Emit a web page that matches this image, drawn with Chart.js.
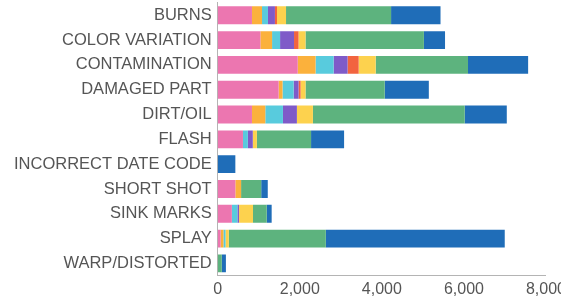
<!DOCTYPE html>
<html>
<head>
<meta charset="utf-8">
<script src="https://cdn.jsdelivr.net/npm/chart.js@4"></script>
<style>
    html, body { margin: 0; padding: 0; background: #fff; overflow: hidden; }
    /* canvas is a bit larger than the window: the 8,000 label gets clipped like in the source */
    #wrap { position: relative; width: 570px; height: 316px; margin-top: -13px; }
</style>
</head>
<body>
<div id="wrap"><canvas id="chart"></canvas></div>
<script>
// defect categories (y axis)
const categories = [
    'BURNS', 'COLOR VARIATION', 'CONTAMINATION', 'DAMAGED PART', 'DIRT/OIL', 'FLASH',
    'INCORRECT DATE CODE', 'SHORT SHOT', 'SINK MARKS', 'SPLAY', 'WARP/DISTORTED'
];

// stacked series, one value per category
const seriesPink   = [835, 1040, 1950, 1485, 835, 615, 0, 430, 345, 70, 0];
const seriesOrange = [245, 285, 435, 95, 325, 0, 0, 140, 0, 70, 0];
const seriesCyan   = [145, 195, 440, 270, 430, 120, 0, 0, 135, 50, 0];
const seriesPurple = [170, 340, 340, 120, 340, 120, 0, 0, 40, 0, 0];
const seriesRed    = [50, 110, 270, 50, 0, 0, 0, 0, 0, 0, 0];
const seriesYellow = [220, 170, 415, 120, 390, 100, 0, 0, 340, 80, 0];
const seriesGreen  = [2560, 2885, 2250, 1930, 3700, 1320, 0, 490, 335, 2365, 100];
const seriesBlue   = [1205, 515, 1465, 1075, 1025, 805, 430, 160, 120, 4360, 100];

const xTicks = [0, 2000, 4000, 6000, 8000];

const series = [
    { name: 'A', data: seriesPink,   color: '#ec76b0' },
    { name: 'B', data: seriesOrange, color: '#fbb13c' },
    { name: 'C', data: seriesCyan,   color: '#58cbdd' },
    { name: 'D', data: seriesPurple, color: '#7f5bc8' },
    { name: 'E', data: seriesRed,    color: '#f2643f' },
    { name: 'F', data: seriesYellow, color: '#fdd24e' },
    { name: 'G', data: seriesGreen,  color: '#5db37e' },
    { name: 'H', data: seriesBlue,   color: '#1f6db8' },
];

const textColor = '#555';
const axisColor = '#b4b4b4';
const family = '"Liberation Sans", Arial, sans-serif';

new Chart(document.getElementById('chart'), {
    type: 'bar',
    data: {
        labels: categories,
        datasets: series.map(s => ({
            label: s.name,
            data: s.data,
            backgroundColor: s.color,
            borderWidth: 0,
        })),
    },
    options: {
        indexAxis: 'y',
        responsive: true,
        maintainAspectRatio: false,
        animation: false,
        layout: {
            padding: { left: 8, top: 0, bottom: 0, right: 0 },
        },
        plugins: {
            legend: { display: false },
            tooltip: { enabled: false },
        },
        scales: {
            x: {
                stacked: true,
                min: 0,
                max: 8000,
                afterBuildTicks: axis => {
                    axis.ticks = xTicks.map(v => ({ value: v }));
                },
                grid: { display: false, drawTicks: false },
                border: { display: true, color: axisColor, width: 1 },
                ticks: {
                    color: textColor,
                    font: { family: family, size: 16 },
                    padding: 4,
                    maxRotation: 0,
                    callback: v => v.toLocaleString('en-US'),
                },
            },
            y: {
                stacked: true,
                grid: { display: false, drawTicks: false },
                border: { display: true, color: axisColor, width: 1 },
                ticks: {
                    color: textColor,
                    font: { family: family, size: 16.5 },
                    padding: 6,
                    autoSkip: false,
                },
            },
        },
    },
});
</script>
</body>
</html>
